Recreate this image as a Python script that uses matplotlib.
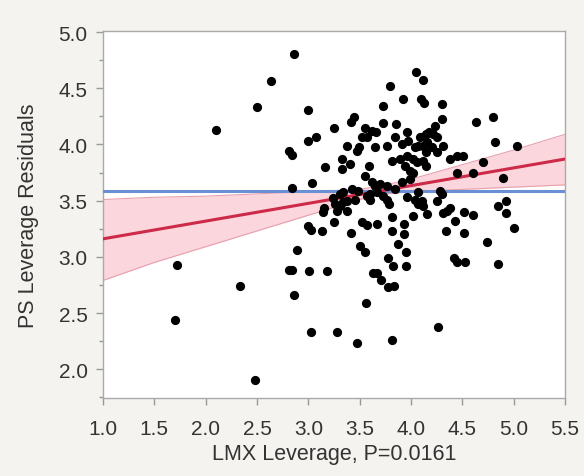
import matplotlib
matplotlib.use("Agg")
import matplotlib.pyplot as plt
from matplotlib.ticker import MultipleLocator

# LMX leverage vs PS leverage residuals
lmx = [1.72, 1.70, 2.33, 2.48, 2.10, 2.86, 2.64, 2.50, 3.00, 3.25,
       3.00, 3.07, 2.81, 2.84, 3.16, 3.04, 2.84, 3.24, 3.15, 3.14,
       3.00, 3.03, 3.13, 3.25, 2.89, 2.81, 2.84, 3.01, 3.18, 2.86,
       3.03, 3.28, 3.42, 3.57, 3.67, 3.81, 3.81, 3.93, 3.93, 4.02,
       4.16, 4.31, 4.34, 4.43, 4.52, 4.60, 4.52, 4.74, 4.85, 4.93,
       4.93, 5.00, 4.85, 3.50, 3.55, 3.87, 3.95, 3.78, 3.82, 3.95,
       4.42, 4.45, 4.53, 3.63, 3.67, 3.71, 3.78, 3.83, 3.56, 3.47,
       3.81, 4.26, 4.05, 4.12, 3.80, 3.92, 4.10, 4.13, 4.30, 3.73,
       4.63, 4.80, 4.30, 3.44, 3.42, 3.55, 3.57, 3.73, 3.85, 3.66,
       3.96, 4.23, 4.21, 3.38, 3.47, 3.49, 3.65, 3.77, 3.84, 3.91,
       3.97, 4.04, 4.07, 4.15, 4.16, 4.25, 4.31, 3.33, 3.33, 3.41,
       3.59, 3.81, 3.89, 3.96, 4.02, 4.06, 4.12, 4.15, 4.38, 4.45,
       4.51, 4.70, 5.03, 4.82, 4.45, 4.60, 4.90, 3.55, 4.02, 3.99,
       3.91, 3.62, 3.65, 3.70, 3.77, 3.84, 4.28, 4.30, 3.34, 3.43,
       3.48, 3.38, 3.45, 3.57, 3.67, 3.77, 3.79, 4.07, 4.11, 4.04,
       4.25, 3.31, 3.28, 4.07, 4.35, 3.52, 3.62, 4.09, 4.12, 4.18,
       4.25, 4.15, 3.94, 3.99, 3.31, 3.60, 3.73, 3.26, 3.34, 3.38,
       3.60, 3.96, 4.12, 4.38, 3.52, 4.20]
ps = [2.93, 2.44, 2.74, 1.90, 4.13, 4.80, 4.56, 4.33, 4.31, 4.15,
      4.03, 4.07, 3.94, 3.91, 3.80, 3.66, 3.61, 3.52, 3.43, 3.40,
      3.27, 3.24, 3.23, 3.31, 3.06, 2.88, 2.88, 2.87, 2.87, 2.66,
      2.33, 2.33, 3.21, 3.28, 3.29, 3.35, 3.23, 3.29, 3.20, 3.36,
      3.38, 3.39, 3.23, 3.32, 3.40, 3.37, 3.21, 3.13, 3.45, 3.50,
      3.39, 3.26, 2.94, 3.10, 3.04, 3.11, 3.04, 2.99, 2.92, 2.92,
      2.99, 2.95, 2.95, 2.86, 2.86, 2.79, 2.73, 2.74, 2.59, 2.23,
      2.26, 2.38, 4.64, 4.57, 4.52, 4.40, 4.40, 4.37, 4.36, 4.34,
      4.20, 4.24, 4.23, 4.24, 4.20, 4.15, 4.07, 4.19, 4.18, 4.11,
      4.11, 4.16, 4.09, 3.99, 3.94, 3.98, 3.98, 3.99, 4.07, 4.00,
      4.03, 3.98, 3.99, 4.09, 4.02, 4.07, 3.99, 3.87, 3.78, 3.83,
      3.81, 3.85, 3.87, 3.90, 3.87, 3.84, 3.85, 3.81, 3.87, 3.90,
      3.90, 3.84, 3.99, 4.02, 3.75, 3.75, 3.70, 3.72, 3.75, 3.69,
      3.67, 3.67, 3.63, 3.65, 3.63, 3.60, 3.59, 3.56, 3.58, 3.60,
      3.59, 3.50, 3.51, 3.54, 3.58, 3.51, 3.47, 3.58, 3.50, 3.51,
      3.50, 3.45, 3.41, 3.47, 3.41, 4.07, 4.12, 4.07, 3.99, 4.11,
      3.93, 3.93, 3.81, 3.76, 3.56, 3.56, 3.54, 3.47, 3.49, 3.41,
      3.51, 3.53, 3.45, 3.43, 3.31, 3.98]

# fitted line, its confidence band and the mean line
fit_x = [1.0, 5.5]
fit_y = [3.16, 3.87]
band_x = [1.0, 1.5, 2.0, 2.5, 3.0, 3.5, 3.75, 4.0, 4.5, 5.0, 5.5]
band_lo = [2.79, 2.95, 3.09, 3.23, 3.37, 3.51, 3.56, 3.58, 3.60, 3.62, 3.64]
band_hi = [3.51, 3.53, 3.54, 3.56, 3.58, 3.60, 3.64, 3.69, 3.82, 3.95, 4.09]
mean_y = 3.59

plt.rcParams['font.family'] = ['Liberation Sans', 'DejaVu Sans']

fig = plt.figure(figsize=(5.84, 4.77), dpi=100, facecolor='#f4f3ef')
ax = fig.add_axes([0.1764, 0.1635, 0.7911, 0.7694])
ax.set_facecolor('white')

ax.fill_between(band_x, band_lo, band_hi, color='#fbcfd8', alpha=0.85, lw=0, zorder=1)
ax.plot(band_x, band_lo, color='#e8a0ae', lw=0.8, zorder=2)
ax.plot(band_x, band_hi, color='#e8a0ae', lw=0.8, zorder=2)
ax.axhline(mean_y, color='#6b8fd4', lw=2.2, zorder=3)
ax.plot(fit_x, fit_y, color='#cc2a48', lw=2.2, zorder=3)
ax.scatter(lmx, ps, s=44, color='black', lw=0, zorder=4)

ax.set_xlim(1.0, 5.5)
ax.set_ylim(1.744, 5.009)
ax.xaxis.set_major_locator(MultipleLocator(0.5))
ax.yaxis.set_major_locator(MultipleLocator(0.5))
ax.yaxis.set_minor_locator(MultipleLocator(0.25))
ax.xaxis.set_major_formatter(matplotlib.ticker.FormatStrFormatter('%.1f'))
ax.yaxis.set_major_formatter(matplotlib.ticker.FormatStrFormatter('%.1f'))

ax.tick_params(axis='both', which='major', length=5, width=1, color='#999999',
               labelsize=15, labelcolor='#333333', pad=6)
ax.tick_params(axis='x', which='major', pad=10)
ax.tick_params(axis='y', which='minor', length=3, width=1, color='#999999')
for s in ax.spines.values():
    s.set_color('#aaaaaa')
    s.set_linewidth(1)

ax.set_xlabel('LMX Leverage, P=0.0161', fontsize=15.5, color='#333333', labelpad=4)
ax.set_ylabel('PS Leverage Residuals', fontsize=15.5, color='#333333', labelpad=14)

fig.savefig('out.png', dpi=100, facecolor=fig.get_facecolor())
